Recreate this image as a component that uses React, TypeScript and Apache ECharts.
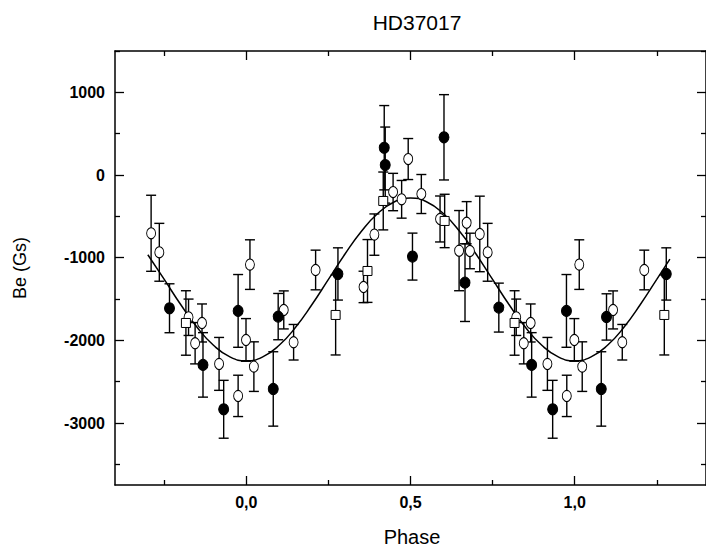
import React, { useEffect, useRef } from "react";
import * as echarts from "echarts";

// ---- data ----
const openPhase = [-0.290, -0.265, -0.176, -0.156, -0.135, -0.083, -0.025, -0.001, 0.011, 0.023, 0.114, 0.144, 0.211, 0.357, 0.390, 0.447, 0.473, 0.493, 0.533, 0.590, 0.648, 0.671, 0.681, 0.711, 0.735, 0.822, 0.845, 0.866, 0.917, 0.976, 0.999, 1.014, 1.023, 1.117, 1.145, 1.212];
const openBe = [-705, -935, -1721, -2035, -1790, -2285, -2672, -1995, -1084, -2318, -1632, -2023, -1149, -1354, -721, -206, -294, 193, -230, -532, -915, -577, -919, -713, -935, -1721, -2035, -1790, -2285, -2672, -1995, -1084, -2318, -1632, -2023, -1149];
const openErr = [460, 350, 220, 250, 230, 320, 250, 258, 300, 300, 230, 215, 240, 190, 250, 226, 228, 248, 236, 278, 485, 255, 215, 457, 350, 220, 250, 230, 320, 250, 258, 300, 300, 230, 215, 240];

const filledPhase = [-0.234, -0.132, -0.069, -0.025, 0.082, 0.097, 0.279, 0.420, 0.423, 0.506, 0.602, 0.666, 0.769, 0.869, 0.933, 0.975, 1.081, 1.097, 1.279];
const filledBe = [-1612, -2297, -2834, -1644, -2588, -1713, -1197, 330, 120, -987, 456, -1302, -1604, -2297, -2834, -1644, -2588, -1717, -1197];
const filledErr = [296, 390, 350, 440, 450, 280, 316, 510, 460, 284, 516, 470, 296, 390, 350, 440, 450, 280, 316];

const squarePhase = [-0.184, 0.272, 0.369, 0.417, 0.604, 0.817, 1.273];
const squareBe = [-1790, -1693, -1161, -314, -556, -1790, -1693];
const squareErr = [390, 484, 380, 350, 323, 390, 484];

const fitPhase = [-0.30, -0.25, -0.20, -0.15, -0.10, -0.05, 0.00, 0.05, 0.10, 0.15, 0.20, 0.25, 0.30, 0.35, 0.40, 0.45, 0.50, 0.55, 0.60, 0.65, 0.70, 0.75, 0.80, 0.85, 0.90, 0.95, 1.00, 1.05, 1.10, 1.15, 1.20, 1.25, 1.29];
const fitBe = [-965, -1263, -1567, -1842, -2060, -2200, -2248, -2200, -2060, -1842, -1567, -1263, -959, -684, -466, -326, -278, -326, -466, -684, -959, -1263, -1567, -1842, -2060, -2200, -2248, -2200, -2060, -1842, -1567, -1263, -1018];

const xMajor = [0, 0.5, 1.0];
const xMinor = [-0.25, 0.25, 0.75, 1.25];
const yMajor = [-3000, -2000, -1000, 0, 1000];
const yMinor = [-3500, -2500, -1500, -500, 500, 1500];

const FONT = "Liberation Sans, Arial, Helvetica, sans-serif";

function zip3(a: number[], b: number[], c: number[]) {
  return a.map((v, i) => [v, b[i], c[i]]);
}

export default function App() {
  const ref = useRef<HTMLDivElement>(null);
  useEffect(() => {
    if (!ref.current) return;
    const chart = echarts.init(ref.current, undefined, { renderer: "svg" });

    const lineOn = { show: true, onZero: false, lineStyle: { color: "#000", width: 1.5 } };
    const lineOff = { show: false, onZero: false };
    const mkX = (pos: string, ticks: number[], len: number, labels: boolean, line: boolean) => ({
      type: "value",
      position: pos,
      min: -0.4,
      max: 1.4,
      axisLine: line ? lineOn : lineOff,
      axisTick: { show: true, inside: true, length: len, customValues: ticks, lineStyle: { color: "#000", width: 1.3 } },
      axisLabel: labels
        ? {
            show: true,
            customValues: ticks,
            formatter: (v: number) => v.toFixed(1).replace(".", ","),
            fontFamily: FONT,
            fontWeight: "bold",
            fontSize: 16,
            color: "#000",
            margin: 9,
          }
        : { show: false },
      splitLine: { show: false },
    });
    const mkY = (pos: string, ticks: number[], len: number, labels: boolean, line: boolean) => ({
      type: "value",
      position: pos,
      min: -3750,
      max: 1500,
      axisLine: line ? lineOn : lineOff,
      axisTick: { show: true, inside: true, length: len, customValues: ticks, lineStyle: { color: "#000", width: 1.3 } },
      axisLabel: labels
        ? {
            show: true,
            customValues: ticks,
            formatter: (v: number) => String(v),
            fontFamily: FONT,
            fontWeight: "bold",
            fontSize: 16,
            color: "#000",
            margin: 10,
          }
        : { show: false },
      splitLine: { show: false },
    });

    const errSeries = (data: number[][]) => ({
      type: "custom",
      xAxisIndex: 0,
      yAxisIndex: 0,
      z: 2,
      data,
      renderItem: (params: any, api: any) => {
        const x = api.value(0);
        const y = api.value(1);
        const e = api.value(2);
        const top = api.coord([x, y + e]);
        const bot = api.coord([x, y - e]);
        const hw = 5;
        const style = { stroke: "#000", lineWidth: 1.4 };
        return {
          type: "group",
          children: [
            { type: "line", shape: { x1: top[0], y1: top[1], x2: bot[0], y2: bot[1] }, style },
            { type: "line", shape: { x1: top[0] - hw, y1: top[1], x2: top[0] + hw, y2: top[1] }, style },
            { type: "line", shape: { x1: bot[0] - hw, y1: bot[1], x2: bot[0] + hw, y2: bot[1] }, style },
          ],
        };
      },
    });

    const openData = zip3(openPhase, openBe, openErr);
    const filledData = zip3(filledPhase, filledBe, filledErr);
    const squareData = zip3(squarePhase, squareBe, squareErr);

    chart.setOption({
      animation: false,
      backgroundColor: "#fff",
      title: {
        text: "HD37017",
        left: 412,
        top: 7,
        textAlign: "center",
        textStyle: { fontFamily: FONT, fontWeight: "normal", fontSize: 21, color: "#000" },
      },
      grid: { left: 115, top: 51, width: 595, height: 434, containLabel: false },
      xAxis: [
        mkX("bottom", xMajor, 9, true, true),
        mkX("bottom", xMinor, 5, false, false),
        mkX("top", xMajor, 9, false, true),
        mkX("top", xMinor, 5, false, false),
      ],
      yAxis: [
        mkY("left", yMajor, 9, true, true),
        mkY("left", yMinor, 5, false, false),
        mkY("right", yMajor, 9, false, true),
        mkY("right", yMinor, 5, false, false),
      ],
      graphic: [
        {
          type: "text",
          x: 412,
          y: 537,
          style: { text: "Phase", fontFamily: FONT, fontSize: 20, fill: "#000", textAlign: "center", textVerticalAlign: "middle" },
        },
        {
          type: "text",
          x: 20,
          y: 268,
          rotation: Math.PI / 2,
          style: { text: "Be (Gs)", fontFamily: FONT, fontSize: 18, fill: "#000", textAlign: "center", textVerticalAlign: "middle" },
        },
      ],
      series: [
        {
          type: "line",
          data: fitPhase.map((p, i) => [p, fitBe[i]]),
          smooth: true,
          showSymbol: false,
          symbol: "none",
          z: 1,
          lineStyle: { color: "#000", width: 1.5 },
        },
        errSeries(openData),
        errSeries(filledData),
        errSeries(squareData),
        {
          type: "scatter",
          data: openData.map((d) => [d[0], d[1]]),
          symbol: "circle",
          symbolSize: [9, 11],
          z: 5,
          itemStyle: { color: "#fff", borderColor: "#000", borderWidth: 1, opacity: 1 },
        },
        {
          type: "scatter",
          data: filledData.map((d) => [d[0], d[1]]),
          symbol: "circle",
          symbolSize: [10, 11],
          z: 5,
          itemStyle: { color: "#000", borderColor: "#000", borderWidth: 1, opacity: 1 },
        },
        {
          type: "scatter",
          data: squareData.map((d) => [d[0], d[1]]),
          symbol: "rect",
          symbolSize: [9, 9],
          z: 5,
          itemStyle: { color: "#fff", borderColor: "#000", borderWidth: 1, opacity: 1 },
        },
      ],
    });
    return () => chart.dispose();
  }, []);
  return (
    <div
      ref={ref}
      style={{ position: "fixed", left: 0, top: 0, width: 706, height: 551, background: "#fff" }}
    />
  );
}
